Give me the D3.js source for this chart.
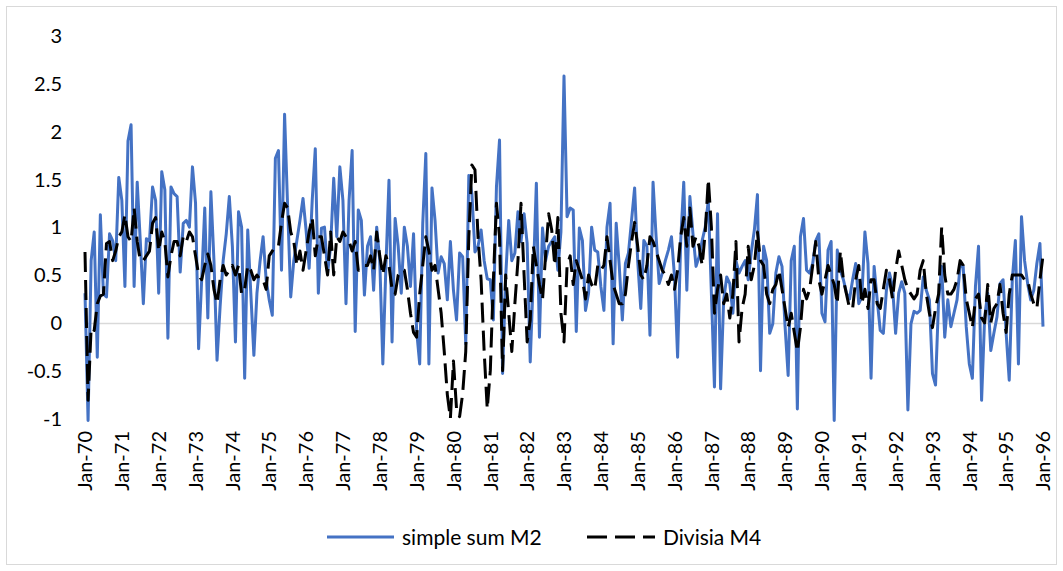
<!DOCTYPE html>
<html><head><meta charset="utf-8">
<script src="https://cdn.jsdelivr.net/npm/d3@7"></script>
<style>body{margin:0;background:#fff}svg{display:block}text{font-family:Lato,"Open Sans",sans-serif;fill:#000}</style>
</head><body><svg id="c" width="1063" height="571"></svg>
<script>
const tickLabels = ["Jan-70","Jan-71","Jan-72","Jan-73","Jan-74","Jan-75","Jan-76","Jan-77","Jan-78","Jan-79","Jan-80","Jan-81","Jan-82","Jan-83","Jan-84","Jan-85","Jan-86","Jan-87","Jan-88","Jan-89","Jan-90","Jan-91","Jan-92","Jan-93","Jan-94","Jan-95","Jan-96"];
const yTicks = [3, 2.5, 2, 1.5, 1, 0.5, 0, -0.5, -1];
const seriesNames = ["simple sum M2", "Divisia M4"];
const simpleSumM2 = [
0.31,-1.02,0.65,0.95,-0.36,1.13,0.3,0.27,0.93,0.86,0.65,1.52,
1.28,0.38,1.9,2.07,0.38,1.47,0.86,0.2,0.88,0.85,1.42,1.28,
0.31,1.58,1.39,-0.16,1.42,1.35,1.32,0.53,1.04,1.07,1.0,1.63,
1.25,-0.27,0.45,1.2,0.05,1.37,0.65,-0.39,0.17,0.65,0.93,1.32,
0.8,-0.2,1.16,1.0,-0.58,0.97,0.31,-0.34,0.31,0.64,0.9,0.45,
0.24,0.08,1.72,1.8,0.55,2.18,1.2,0.27,0.65,0.86,1.07,1.3,
0.97,0.57,1.28,1.82,0.31,0.99,1.0,0.52,0.8,1.51,0.9,1.63,
1.28,0.2,1.28,1.8,-0.09,1.18,1.07,0.29,0.8,0.9,0.34,1.0,
0.65,-0.43,0.59,1.49,-0.2,1.09,0.8,0.31,1.0,0.8,0.38,0.93,
-0.08,-0.43,1.04,1.77,-0.43,1.41,1.07,0.52,0.69,0.62,0.24,0.85,
0.34,0.03,0.73,0.69,-0.22,1.54,1.35,0.74,0.8,0.97,0.65,0.46,
0.45,0.03,1.42,1.91,-0.53,0.48,1.07,0.65,0.73,1.16,0.85,1.14,
0.83,-0.41,0.48,1.46,-0.15,0.99,0.65,0.8,0.85,0.9,0.55,0.95,
2.58,1.11,1.2,1.18,-0.09,0.99,0.86,0.13,0.31,1.0,0.76,0.74,
0.38,0.13,1.0,1.25,-0.22,1.04,0.59,0.03,0.62,0.73,1.07,1.41,
0.65,0.15,0.86,0.8,-0.13,1.47,0.9,0.41,0.52,0.65,0.76,0.9,
0.48,-0.36,0.85,1.47,0.34,1.32,0.93,0.59,0.69,0.86,1.0,1.28,
0.31,-0.67,1.14,-0.69,0.24,0.48,0.41,0.1,0.65,0.52,0.59,0.65,
0.45,0.74,0.97,1.34,-0.5,0.8,0.65,-0.11,-0.01,0.52,0.69,0.59,
-0.04,-0.55,0.65,0.8,-0.9,0.9,1.09,0.55,0.52,0.62,0.86,0.93,
0.1,0.01,0.76,0.85,-1.02,0.76,0.55,0.45,0.31,0.25,0.45,0.62,
0.2,0.27,0.95,0.62,-0.58,0.59,0.24,-0.08,-0.11,0.34,0.52,0.38,
-0.11,0.31,0.43,0.31,-0.91,-0.01,0.12,0.1,0.13,0.48,0.34,0.24,
-0.53,-0.65,0.24,0.59,-0.15,0.24,-0.04,0.1,0.24,0.59,0.59,-0.04,
-0.43,-0.58,0.38,0.8,-0.81,0.06,0.31,-0.29,-0.11,0.06,0.41,0.45,
-0.11,-0.6,0.45,0.86,-0.43,1.11,0.65,0.41,0.24,0.34,0.62,0.83,
-0.04];
const divisiaM4 = [
0.74,-0.81,-0.05,-0.08,0.2,0.28,0.3,0.83,0.85,0.65,0.75,0.9,
0.95,1.13,0.9,0.85,1.2,0.85,0.65,0.65,0.7,0.75,1.04,1.1,
0.75,0.95,0.85,0.48,0.7,0.85,0.85,0.7,0.9,0.85,0.95,0.9,
0.7,0.5,0.45,0.6,0.72,0.6,0.35,0.2,0.45,0.6,0.5,0.55,
0.6,0.5,0.6,0.3,0.35,0.6,0.55,0.45,0.5,0.45,0.45,0.35,
0.7,0.75,0.8,0.8,1.05,1.25,1.2,0.95,0.85,0.6,0.75,0.55,
0.75,0.95,1.1,0.7,0.9,0.9,0.7,0.5,0.95,0.5,0.9,0.85,
0.95,0.9,0.85,0.75,0.85,0.55,0.55,0.6,0.6,0.7,0.55,0.95,
0.7,0.5,0.7,0.6,0.35,0.3,0.5,0.55,0.55,0.35,0.1,-0.1,
-0.15,0.3,0.6,0.9,0.75,0.55,0.6,0.35,0.1,-0.3,-0.75,-1.0,
-0.4,-0.9,-0.98,-0.74,-0.3,0.9,1.65,1.6,0.9,0.45,-0.3,-0.9,
-0.5,0.45,1.25,0.9,-0.5,0.5,0.1,-0.3,0.2,0.65,1.25,0.5,
-0.2,0.03,0.8,0.6,0.4,0.24,0.7,1.14,0.97,0.6,1.1,0.1,
-0.2,0.6,0.7,0.4,0.65,0.55,0.45,0.25,0.5,0.4,0.35,0.6,
0.55,0.6,0.9,0.65,0.4,0.3,0.2,0.2,0.3,0.6,0.85,1.05,
0.8,0.5,0.45,0.6,0.9,0.85,0.75,0.65,0.55,0.5,0.4,0.5,
0.35,0.55,0.9,1.1,0.8,1.2,0.8,0.9,0.8,0.6,0.95,1.5,
1.0,0.1,0.35,0.5,0.2,0.3,0.05,0.3,0.85,-0.2,0.15,0.3,
0.8,0.45,0.6,0.95,0.65,0.6,0.3,0.2,0.35,0.4,0.55,0.35,
0.15,-0.05,0.1,-0.1,-0.3,-0.05,0.35,0.25,0.35,0.6,0.85,0.45,
0.3,0.45,0.6,0.5,0.4,0.2,0.75,0.45,0.3,0.15,0.15,0.45,
0.6,0.2,0.35,0.15,0.45,0.45,0.2,0.15,0.35,0.55,0.45,0.25,
0.55,0.75,0.6,0.45,0.35,0.3,0.25,0.3,0.55,0.65,0.3,0.1,
-0.05,0.15,0.3,1.0,0.5,0.3,0.3,0.35,0.45,0.65,0.6,0.25,
0.1,-0.05,0.25,0.3,0.05,0.0,0.4,0.0,0.15,0.2,0.4,0.1,
-0.1,0.3,0.5,0.5,0.5,0.5,0.45,0.45,0.3,0.2,0.15,0.45,
0.7];

const svg = d3.select("#c");
const W = 1063, H = 571;
svg.append("rect").attr("x", 6.5).attr("y", 6.5).attr("width", W - 13).attr("height", H - 13)
  .attr("fill", "#fff").attr("stroke", "#d9d9d9").attr("stroke-width", 1);

const x = d3.scaleLinear().domain([0, simpleSumM2.length - 1]).range([85, 1043]);
const y = d3.scaleLinear().domain([-1, 3]).range([418.5, 35.8]);

// zero axis line
svg.append("line").attr("x1", x(0)).attr("x2", x(simpleSumM2.length - 1))
  .attr("y1", Math.round(y(0)) + 0.5).attr("y2", Math.round(y(0)) + 0.5)
  .attr("stroke", "#d9d9d9").attr("stroke-width", 1.5);

// y tick labels
svg.append("g").selectAll("text").data(yTicks).join("text")
  .attr("x", 62).attr("y", d => y(d)).attr("dy", "0.36em")
  .attr("text-anchor", "end").attr("font-size", 20).text(d => String(d));

// x tick labels
svg.append("g").selectAll("text").data(tickLabels).join("text")
  .attr("transform", (d, i) => `translate(${x(i * 12)},431) rotate(-90)`)
  .attr("dy", "0.36em").attr("text-anchor", "end").attr("font-size", 20).text(d => d);

const line = d3.line().x((d, i) => x(i)).y(d => y(d));

svg.append("path").datum(simpleSumM2).attr("d", line)
  .attr("fill", "none").attr("stroke", "#4472c4").attr("stroke-width", 3).attr("stroke-linejoin", "round");
svg.append("path").datum(divisiaM4).attr("d", line)
  .attr("fill", "none").attr("stroke", "#000").attr("stroke-width", 3).attr("stroke-dasharray", "20 8").attr("stroke-linejoin", "round");

// legend
const lg = svg.append("g");
lg.append("line").attr("x1", 327).attr("x2", 394).attr("y1", 537).attr("y2", 537)
  .attr("stroke", "#4472c4").attr("stroke-width", 3);
lg.append("text").attr("x", 402).attr("y", 537).attr("dy", "0.36em").attr("font-size", 21).text(seriesNames[0]);
lg.append("line").attr("x1", 587).attr("x2", 655).attr("y1", 537).attr("y2", 537)
  .attr("stroke", "#000").attr("stroke-width", 3).attr("stroke-dasharray", "20 8");
lg.append("text").attr("x", 663).attr("y", 537).attr("dy", "0.36em").attr("font-size", 21).text(seriesNames[1]);
</script></body></html>
